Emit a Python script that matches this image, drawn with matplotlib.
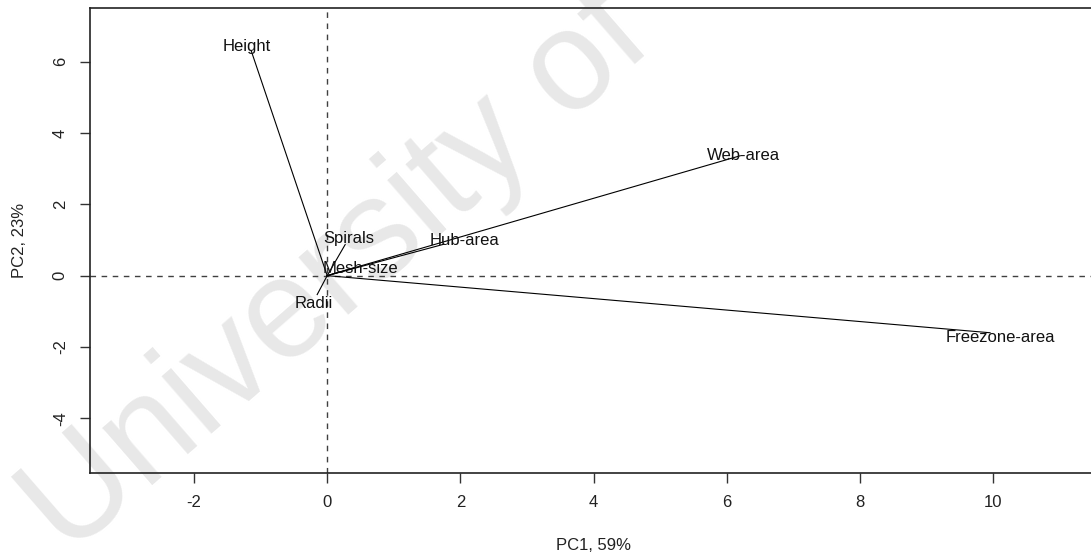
import matplotlib
matplotlib.use("Agg")
import matplotlib.pyplot as plt

plt.rcParams['font.family'] = ['Liberation Sans', 'DejaVu Sans']

# loadings (arrow tips)
variables = ['Height', 'Web-area', 'Freezone-area', 'Hub-area', 'Spirals', 'Mesh-size', 'Radii']
pc1 = [-1.14, 6.2, 9.95, 1.75, 0.27, 0.4, -0.15]
pc2 = [6.3, 3.36, -1.6, 0.88, 0.87, 0.22, -0.53]

# where each label sits
label_x = [-1.2, 6.25, 10.1, 2.06, 0.33, 0.5, -0.2]
label_y = [6.41, 3.36, -1.72, 0.98, 1.03, 0.2, -0.77]

x_ticks = [-2, 0, 2, 4, 6, 8, 10]
y_ticks = [-4, -2, 0, 2, 4, 6]

fig = plt.figure(figsize=(10.91, 5.58), dpi=100)
ax = fig.add_axes([90/1091, 1 - 473/558, (1096 - 90)/1091, (473 - 8)/558])
ax.patch.set_alpha(0)

ax.axhline(0, color='#404040', ls=(0, (4, 4)), lw=1.0, zorder=1)
ax.axvline(0, color='#404040', ls=(0, (4, 4)), lw=1.0, zorder=1)

for x, y in zip(pc1, pc2):
    ax.plot([0, x], [0, y], color='black', lw=0.8, zorder=2)

for name, x, y in zip(variables, label_x, label_y):
    ax.text(x, y, name, ha='center', va='center', fontsize=12, color='#111111', zorder=3)

ax.set_xlim(-3.56, 11.54)
ax.set_ylim(-5.53, 7.5)
ax.set_xticks(x_ticks)
ax.set_yticks(y_ticks)
ax.set_xticklabels([str(t) for t in x_ticks])
ax.set_yticklabels([str(t) for t in y_ticks], rotation=90, va='center')
ax.tick_params(direction='out', length=7, width=1, color='#333333', labelsize=12,
               labelcolor='#222222', pad=9)
for s in ax.spines.values():
    s.set_linewidth(1.2)
    s.set_color('#222222')
ax.spines['right'].set_visible(False)

fig.text(593/1091, 1 - 545/558, 'PC1, 59%', ha='center', va='center', fontsize=12, color='#222222')
fig.text(20/1091, 1 - 240/558, 'PC2, 23%', ha='center', va='center', fontsize=12,
         rotation=90, color='#222222')

# watermark, behind the plot
fig.text(338/1091, 1 - 275/558, 'University of', ha='center', va='center', fontsize=102,
         rotation=41, color='#e8e8e8', zorder=-1)

fig.savefig('out.png', dpi=100)
